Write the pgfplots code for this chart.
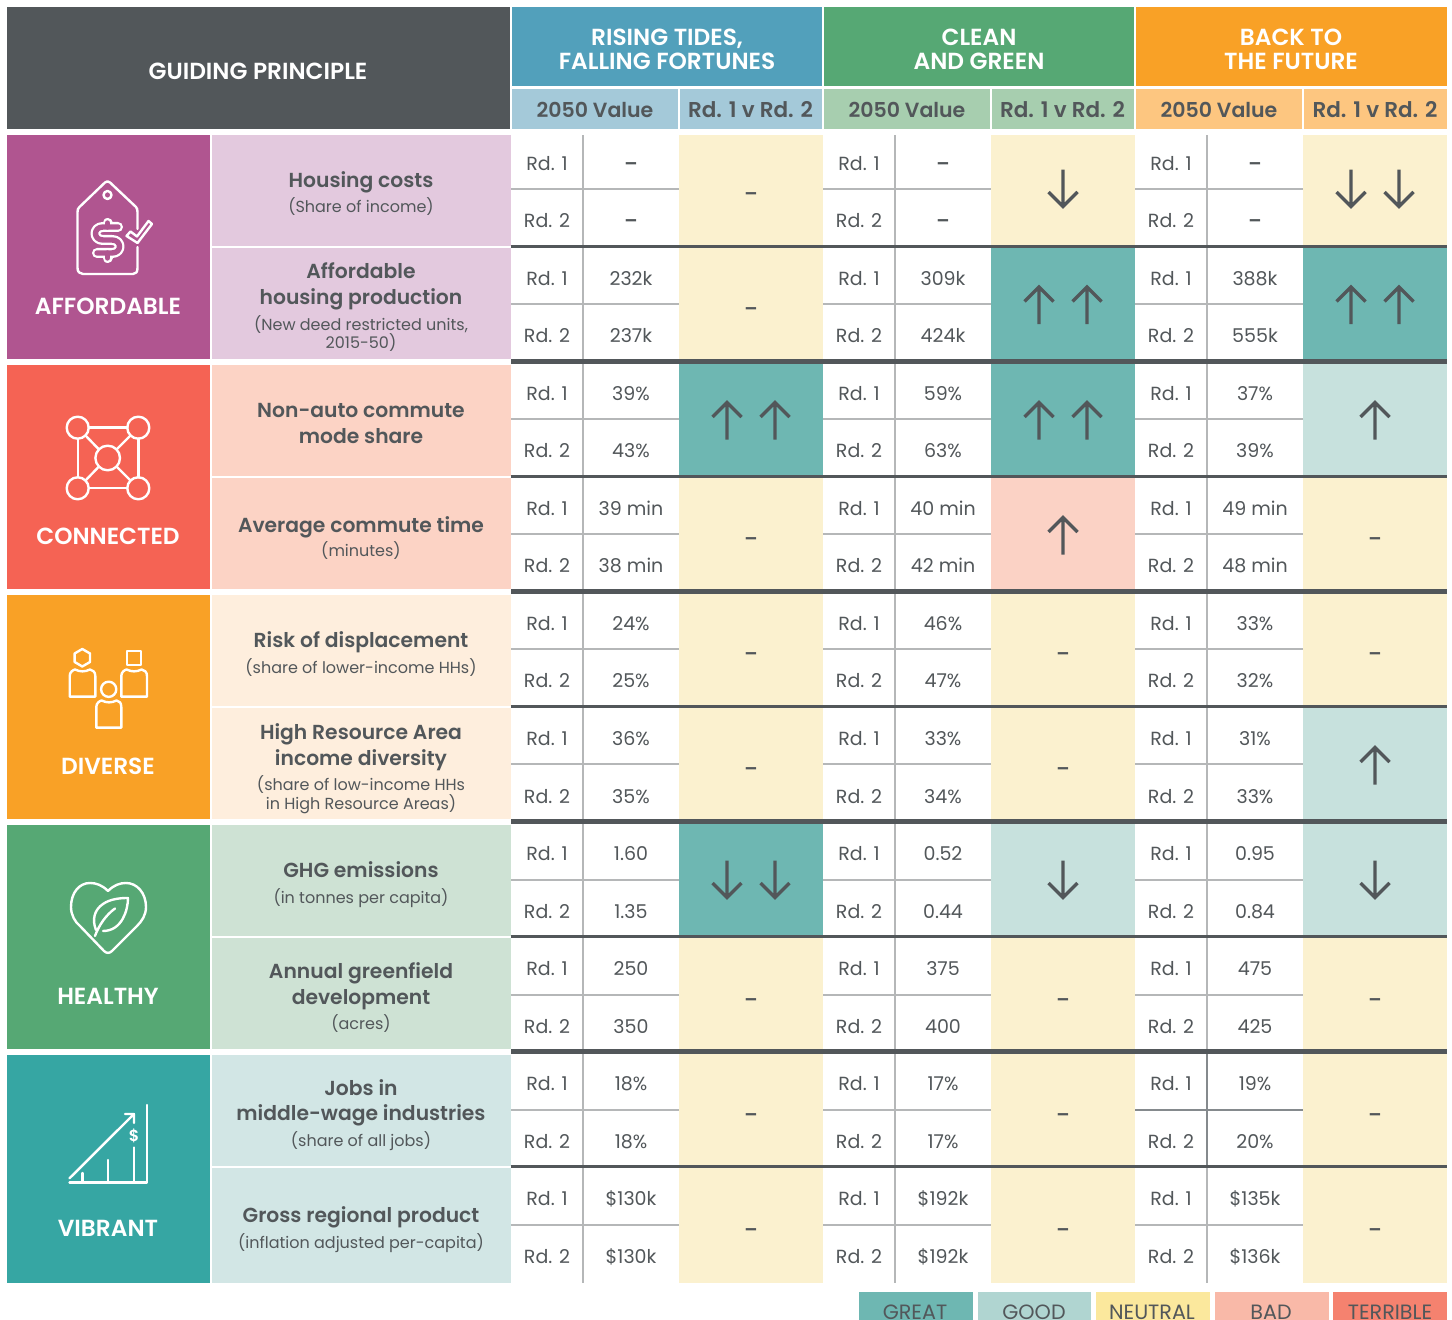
\documentclass[border=0pt]{standalone}
\usepackage{pgfplots}
\usepackage{pgfplotstable}
\usepackage{fontspec}
\pgfplotsset{compat=1.18}
\setmainfont{Poppins}
\newfontfamily\semi{Poppins SemiBold}
\definecolor{ink}{HTML}{52575A}
\definecolor{rule}{HTML}{B5B7B8}
\definecolor{ruleD}{HTML}{858A8D}
\definecolor{Nn}{HTML}{FBF1CF}
\definecolor{Gr}{HTML}{6EB7B2}
\definecolor{Go}{HTML}{C7E1DD}
\definecolor{Ba}{HTML}{FBD2C5}
\definecolor{cBlue}{HTML}{52A0BB}
\definecolor{cGreen}{HTML}{56A874}
\definecolor{cOrange}{HTML}{F9A126}
\definecolor{cBlueL}{HTML}{A4C9D9}
\definecolor{cGreenL}{HTML}{A7CEAF}
\definecolor{cOrangeL}{HTML}{FDC680}
\definecolor{cPurple}{HTML}{B05590}
\definecolor{cRed}{HTML}{F56354}
\definecolor{cTeal}{HTML}{36A6A3}
\definecolor{mPurple}{HTML}{E3C9DE}
\definecolor{mRed}{HTML}{FCD3C5}
\definecolor{mOrange}{HTML}{FEEEDD}
\definecolor{mGreen}{HTML}{CEE2D4}
\definecolor{mTeal}{HTML}{D2E6E5}
\definecolor{lGood}{HTML}{B0D5D1}
\definecolor{lNeutral}{HTML}{FBE89D}
\definecolor{lBad}{HTML}{F9B9A8}
\definecolor{lTerrible}{HTML}{F5826F}
\pgfplotstableread{
x y
0 -17.5
0 19.5
nan nan
-14.5 -3
0 -17.5
14.5 -3
}\arrowshape
\newcommand\R[5]{\addplot[fill=#5,draw=none,forget plot] coordinates {(#1,#3)(#2,#3)(#2,#4)(#1,#4)} --cycle;}
\newcommand\Ln[6]{\addplot[color=#5,line width=#6pt,forget plot] coordinates {(#1,#2)(#3,#4)};}
% x, y centre, direction (1 up, -1 down)
\newcommand\Ar[3]{\addplot[color=ink,line width=3.3pt,miter limit=10,forget plot,unbounded coords=jump] table[x expr=\thisrow{x}+#1,y expr=#3*\thisrow{y}+#2]{\arrowshape};}
\newcommand\T[5]{\node[anchor=base,inner sep=0pt,text=#3,font=#4] at (axis cs:#1,{#2}) {#5};}
\newcommand\fHd{\fontsize{23.3}{26}\semi}
\newcommand\fSb{\fontsize{20.5}{24}\semi}
\newcommand\fSc{\fontsize{21.5}{24}\semi}
\newcommand\fMt{\fontsize{20.3}{24}\semi}
\newcommand\fMs{\fontsize{16}{18}\selectfont}
\newcommand\fV{\fontsize{19}{22}\selectfont}
\newcommand\fL{\fontsize{20.7}{24}\selectfont}
\newcommand\Hd[3]{\T{#1}{#2+8.5}{white}{\fHd}{#3}}
\newcommand\Sb[2]{\T{#1}{109+8}{ink}{\fSb}{#2}}
\newcommand\Sc[2]{\T{#1}{109+8}{ink}{\fSc}{#2}}
\newcommand\Mt[2]{\T{361}{#1+7.5}{ink}{\fMt}{#2}}
\newcommand\Ms[2]{\T{361}{#1+6.3}{ink}{\fMs}{#2}}
\newcommand\Vv[3]{\T{#1}{#2+7}{ink}{\fV}{#3}}
\newcommand\Vals[8]{%
 \Vv{547}{#1}{Rd. 1}\Vv{547}{#2}{Rd. 2}\Vv{631}{#1}{#3}\Vv{631}{#2}{#4}%
 \Vv{859}{#1}{Rd. 1}\Vv{859}{#2}{Rd. 2}\Vv{943}{#1}{#5}\Vv{943}{#2}{#6}%
 \Vv{1171}{#1}{Rd. 1}\Vv{1171}{#2}{Rd. 2}\Vv{1255}{#1}{#7}\Vv{1255}{#2}{#8}}
\newcommand\Dsh[2]{\T{#1}{#2+8}{ink}{\fV\semi}{–}}
\newcommand\vd{{\semi –}}
\begin{document}
\begin{tikzpicture}
\begin{axis}[scale only axis,width=1452pt,height=1320pt,xmin=0,xmax=1452,ymin=0,ymax=1320,y dir=reverse,axis lines=none,clip=true]
\R{0}{1452}{0}{1320}{white}
% header
\R{7}{510}{7}{129}{ink}
\R{512}{822}{7}{86}{cBlue}
\R{824}{1134}{7}{86}{cGreen}
\R{1136}{1447}{7}{86}{cOrange}
\R{512}{678}{89}{129}{cBlueL}\R{680}{822}{89}{129}{cBlueL}
\R{824}{990}{89}{129}{cGreenL}\R{992}{1134}{89}{129}{cGreenL}
\R{1136}{1302}{89}{129}{cOrangeL}\R{1304}{1447}{89}{129}{cOrangeL}
% left blocks
\R{7}{210}{135}{359}{cPurple}
\R{7}{210}{365}{589}{cRed}
\R{7}{210}{595}{819}{cOrange}
\R{7}{210}{825}{1049}{cGreen}
\R{7}{210}{1055}{1283}{cTeal}
% measures
\R{212}{511}{135}{245.5}{mPurple}\R{212}{511}{248}{359}{mPurple}
\R{212}{511}{365}{475.5}{mRed}\R{212}{511}{478}{589}{mRed}
\R{212}{511}{595}{705.5}{mOrange}\R{212}{511}{708}{819}{mOrange}
\R{212}{511}{825}{935.5}{mGreen}\R{212}{511}{938}{1049}{mGreen}
\R{212}{511}{1055}{1165.5}{mTeal}\R{212}{511}{1168}{1283}{mTeal}
% comparison cells
\R{679}{823}{135}{247}{Nn}\R{991}{1135}{135}{247}{Nn}\R{1303}{1447}{135}{247}{Nn}
\R{679}{823}{247}{360}{Nn}\R{991}{1135}{247}{360}{Gr}\R{1303}{1447}{247}{360}{Gr}
\R{679}{823}{364}{477}{Gr}\R{991}{1135}{364}{477}{Gr}\R{1303}{1447}{364}{477}{Go}
\R{679}{823}{477}{590}{Nn}\R{991}{1135}{477}{590}{Ba}\R{1303}{1447}{477}{590}{Nn}
\R{679}{823}{594}{707}{Nn}\R{991}{1135}{594}{707}{Nn}\R{1303}{1447}{594}{707}{Nn}
\R{679}{823}{707}{820}{Nn}\R{991}{1135}{707}{820}{Nn}\R{1303}{1447}{707}{820}{Go}
\R{679}{823}{824}{937}{Gr}\R{991}{1135}{824}{937}{Go}\R{1303}{1447}{824}{937}{Go}
\R{679}{823}{937}{1050}{Nn}\R{991}{1135}{937}{1050}{Nn}\R{1303}{1447}{937}{1050}{Nn}
\R{679}{823}{1054}{1167}{Nn}\R{991}{1135}{1054}{1167}{Nn}\R{1303}{1447}{1054}{1167}{Nn}
\R{679}{823}{1167}{1282.5}{Nn}\R{991}{1135}{1167}{1282.5}{Nn}\R{1303}{1447}{1167}{1282.5}{Nn}
% light rules
\Ln{583}{135}{583}{1283}{rule}{1.8}\Ln{895}{135}{895}{1283}{rule}{1.8}\Ln{1207}{135}{1207}{1283}{rule}{1.8}
\Ln{1207}{1054}{1207}{1167}{ruleD}{1.8}
\Ln{511}{189}{679}{189}{rule}{1.6}\Ln{823}{189}{991}{189}{rule}{1.6}\Ln{1135}{189}{1303}{189}{rule}{1.6}
\Ln{511}{304}{679}{304}{rule}{1.6}\Ln{823}{304}{991}{304}{rule}{1.6}\Ln{1135}{304}{1303}{304}{rule}{1.6}
\Ln{511}{419}{679}{419}{rule}{1.6}\Ln{823}{419}{991}{419}{rule}{1.6}\Ln{1135}{419}{1303}{419}{rule}{1.6}
\Ln{511}{534}{679}{534}{rule}{1.6}\Ln{823}{534}{991}{534}{rule}{1.6}\Ln{1135}{534}{1303}{534}{rule}{1.6}
\Ln{511}{649}{679}{649}{rule}{1.6}\Ln{823}{649}{991}{649}{rule}{1.6}\Ln{1135}{649}{1303}{649}{rule}{1.6}
\Ln{511}{764}{679}{764}{rule}{1.6}\Ln{823}{764}{991}{764}{rule}{1.6}\Ln{1135}{764}{1303}{764}{rule}{1.6}
\Ln{511}{880}{679}{880}{rule}{1.6}\Ln{823}{880}{991}{880}{rule}{1.6}\Ln{1135}{880}{1303}{880}{rule}{1.6}
\Ln{511}{995}{679}{995}{rule}{1.6}\Ln{823}{995}{991}{995}{rule}{1.6}\Ln{1135}{995}{1303}{995}{rule}{1.6}
\Ln{511}{1110}{679}{1110}{rule}{1.6}\Ln{823}{1110}{991}{1110}{rule}{1.6}\Ln{1135}{1110}{1303}{1110}{ruleD}{1.6}
\Ln{511}{1225}{679}{1225}{rule}{1.6}\Ln{823}{1225}{991}{1225}{rule}{1.6}\Ln{1135}{1225}{1303}{1225}{rule}{1.6}
% dark rules
\Ln{511}{246.8}{1447}{246.8}{ink}{3}\Ln{511}{361.7}{1447}{361.7}{ink}{5}
\Ln{511}{476.8}{1447}{476.8}{ink}{3}\Ln{511}{591.7}{1447}{591.7}{ink}{5}
\Ln{511}{706.8}{1447}{706.8}{ink}{3}\Ln{511}{821.7}{1447}{821.7}{ink}{5}
\Ln{511}{936.8}{1447}{936.8}{ink}{3}\Ln{511}{1051.7}{1447}{1051.7}{ink}{5}
\Ln{511}{1166.8}{1447}{1166.8}{ink}{3}
% arrows
\Ar{1063}{189}{-1}\Ar{1351}{189}{-1}\Ar{1399}{189}{-1}
\Ar{1039}{304.5}{1}\Ar{1087}{304.5}{1}\Ar{1351}{304.5}{1}\Ar{1399}{304.5}{1}
\Ar{727}{420}{1}\Ar{775}{420}{1}\Ar{1039}{420}{1}\Ar{1087}{420}{1}\Ar{1375}{420}{1}
\Ar{1063}{535}{1}
\Ar{1375}{765}{1}
\Ar{727}{880}{-1}\Ar{775}{880}{-1}\Ar{1063}{880}{-1}\Ar{1375}{880}{-1}
% legend
\R{859}{973}{1292}{1320}{Gr}
\R{978}{1091}{1292}{1320}{lGood}
\R{1096}{1210}{1292}{1320}{lNeutral}
\R{1215}{1329}{1292}{1320}{lBad}
\R{1333}{1447}{1292}{1320}{lTerrible}
% header text
\T{258}{71+8}{white}{\fHd}{GUIDING PRINCIPLE}
\Hd{667}{37}{RISING TIDES,}\Hd{667}{61}{FALLING FORTUNES}
\Hd{979}{37}{CLEAN}\Hd{979}{61}{AND GREEN}
\Hd{1291}{37}{BACK TO}\Hd{1291}{61}{THE FUTURE}
\Sb{595}{2050 Value}\Sc{750.5}{Rd. 1 v Rd. 2}
\Sb{907}{2050 Value}\Sc{1062.5}{Rd. 1 v Rd. 2}
\Sb{1219}{2050 Value}\Sc{1375}{Rd. 1 v Rd. 2}
% left labels
\Hd{108}{306}{AFFORDABLE}\Hd{108}{536}{CONNECTED}\Hd{108}{766}{DIVERSE}\Hd{108}{996}{HEALTHY}\Hd{108}{1228}{VIBRANT}
% measures text
\Mt{180}{Housing costs}\Ms{206}{(Share of income)}
\Mt{271}{Affordable}\Mt{297}{housing production}\Ms{324}{(New deed restricted units,}\Ms{342}{2015-50)}
\Mt{410}{Non-auto commute}\Mt{436}{mode share}
\Mt{525}{Average commute time}\Ms{550}{(minutes)}
\Mt{640}{Risk of displacement}\Ms{667}{(share of lower-income HHs)}
\Mt{732}{High Resource Area}\Mt{758}{income diversity}\Ms{784}{(share of low-income HHs}\Ms{803}{in High Resource Areas)}
\Mt{870}{GHG emissions}\Ms{897}{(in tonnes per capita)}
\Mt{971}{Annual greenfield}\Mt{997}{development}\Ms{1023}{(acres)}
\Mt{1088}{Jobs in}\Mt{1113}{middle-wage industries}\Ms{1140}{(share of all jobs)}
\Mt{1215}{Gross regional product}\Ms{1242}{(inflation adjusted per-capita)}
% values
\Vals{163}{220}{\vd}{\vd}{\vd}{\vd}{\vd}{\vd}
\Vals{278}{335}{232k}{237k}{309k}{424k}{388k}{555k}
\Vals{393}{450}{39\%}{43\%}{59\%}{63\%}{37\%}{39\%}
\Vals{508}{565}{39 min}{38 min}{40 min}{42 min}{49 min}{48 min}
\Vals{623}{680}{24\%}{25\%}{46\%}{47\%}{33\%}{32\%}
\Vals{738}{796}{36\%}{35\%}{33\%}{34\%}{31\%}{33\%}
\Vals{853}{911}{1.60}{1.35}{0.52}{0.44}{0.95}{0.84}
\Vals{968}{1026}{250}{350}{375}{400}{475}{425}
\Vals{1083}{1141}{18\%}{18\%}{17\%}{17\%}{19\%}{20\%}
\Vals{1198}{1256}{\$130k}{\$130k}{\$192k}{\$192k}{\$135k}{\$136k}
% neutral dashes
\Dsh{751}{192}\Dsh{751}{307}\Dsh{751}{537}\Dsh{1375}{537}
\Dsh{751}{652}\Dsh{1063}{652}\Dsh{1375}{652}\Dsh{751}{767}\Dsh{1063}{767}
\Dsh{751}{998}\Dsh{1063}{998}\Dsh{1375}{998}
\Dsh{751}{1113}\Dsh{1063}{1113}\Dsh{1375}{1113}
\Dsh{751}{1228}\Dsh{1063}{1228}\Dsh{1375}{1228}
% legend text
\T{915}{1319.5}{ink}{\fL}{GREAT}
\T{1034}{1319.5}{ink}{\fL}{GOOD}
\T{1152}{1319.5}{ink}{\fL}{NEUTRAL}
\T{1271}{1319.5}{ink}{\fL}{BAD}
\T{1390}{1319.5}{ink}{\fL}{TERRIBLE}
\end{axis}
% icons, in pixel coordinates of the picture
\begin{scope}[yshift=1320pt,x=1pt,y=-1pt,white,line width=2.4pt,line join=round,line cap=round]
% tag
\draw (137.5,229) -- (137.5,212) .. controls (137.5,210) and (137,208) .. (136,207) -- (110,182.5) .. controls (108.5,181) and (106.5,181) .. (105,182.5) -- (79.5,207) .. controls (78,208) and (77.5,210) .. (77.5,212) -- (77.5,268) .. controls (77.5,272) and (80,274) .. (83,274) -- (133,274) .. controls (136,274) and (137.5,272) .. (137.5,268) -- (137.5,247);
\draw (107.5,195) circle (4);
\draw[line width=10pt] (118,227) -- (103,227) .. controls (93,227) and (93,240) .. (103,240) -- (112,240) .. controls (122,240) and (122,253) .. (112,253) -- (97,253);
\draw[line width=10pt] (107.5,223) -- (107.5,227) (107.5,253) -- (107.5,258);
\draw[color=cPurple,line width=5.4pt] (118,227) -- (103,227) .. controls (93,227) and (93,240) .. (103,240) -- (112,240) .. controls (122,240) and (122,253) .. (112,253) -- (97,253);
\draw[color=cPurple,line width=5.4pt] (107.5,223) -- (107.5,227) (107.5,253) -- (107.5,258);
\draw (126.5,236) -- (130.5,231.5) -- (137,236.5) -- (148.5,221) -- (152,224) -- (137.5,243) -- cycle;
% network
\draw (77.7,427.7) circle (11) (138.3,427.7) circle (11) (77.7,488.3) circle (11) (138.3,488.3) circle (11) (107.7,458) circle (12.3);
\draw (88.7,427.7) -- (127.3,427.7) (88.7,488.3) -- (127.3,488.3) (77.7,438.7) -- (77.7,477.3) (138.3,438.7) -- (138.3,477.3);
\draw (85.5,435.5) -- (99,449.5) (130.5,435.5) -- (116.5,449.5) (85.5,480.5) -- (99,466.5) (130.5,480.5) -- (116.5,466.5);
% people
\draw (82.3,649) -- (90,653.5) -- (90,662) -- (82.3,666.5) -- (74.6,662) -- (74.6,653.5) -- cycle;
\draw (127,651) rectangle (141,665);
\draw (108.7,689.3) circle (7.6);
\draw (69.7,696.7) -- (69.7,676) .. controls (69.7,672) and (73,670) .. (75,669.5) .. controls (80,672) and (85,672) .. (90,669.5) .. controls (93,670) and (95.3,672) .. (95.3,676) -- (95.3,696.7) -- cycle;
\draw (121.3,696.7) -- (121.3,676) .. controls (121.3,672) and (124.6,670) .. (126.6,669.5) .. controls (131.6,672) and (136.6,672) .. (141.6,669.5) .. controls (144.6,670) and (147,672) .. (147,676) -- (147,696.7) -- cycle;
\draw (96.3,727.7) -- (96.3,707) .. controls (96.3,703) and (99.6,701) .. (101.6,700.5) .. controls (106.6,703) and (111.6,703) .. (116.6,700.5) .. controls (119.6,701) and (121.3,703) .. (121.3,707) -- (121.3,727.7) -- cycle;
% heart and leaf
\draw (108,891) .. controls (102,885) and (96,883) .. (90,883) .. controls (79,883) and (71,893) .. (71,907) .. controls (71,915) and (75,922) .. (80,926) -- (104,951) .. controls (106.5,953.5) and (109.5,953.5) .. (112,951) -- (137,926) .. controls (142,921) and (146,915) .. (146,907) .. controls (146,893) and (137,883) .. (126,883) .. controls (120,883) and (114,885) .. (108,891) -- cycle;
\draw (96,930) .. controls (92,920) and (94,910) .. (103,904) .. controls (110,899) and (120,898) .. (128,898) .. controls (128,910) and (122,931) .. (103,931);
\draw (95,936) .. controls (99,925) and (106,915) .. (115,908.5);
% growth chart
\draw (146.7,1105) -- (146.7,1182.7) -- (69.5,1182.7);
\draw (69.5,1178.3) -- (134,1114) (125,1114) -- (134,1114) -- (134,1123);
\draw (82.3,1173) -- (82.3,1182.7) (108,1160) -- (108,1182.7) (134,1147.5) -- (134,1182.7);
\node[text=white,font=\fontsize{16}{18}\semi] at (134,1136) {\$};
\end{scope}
\end{tikzpicture}
\end{document}
